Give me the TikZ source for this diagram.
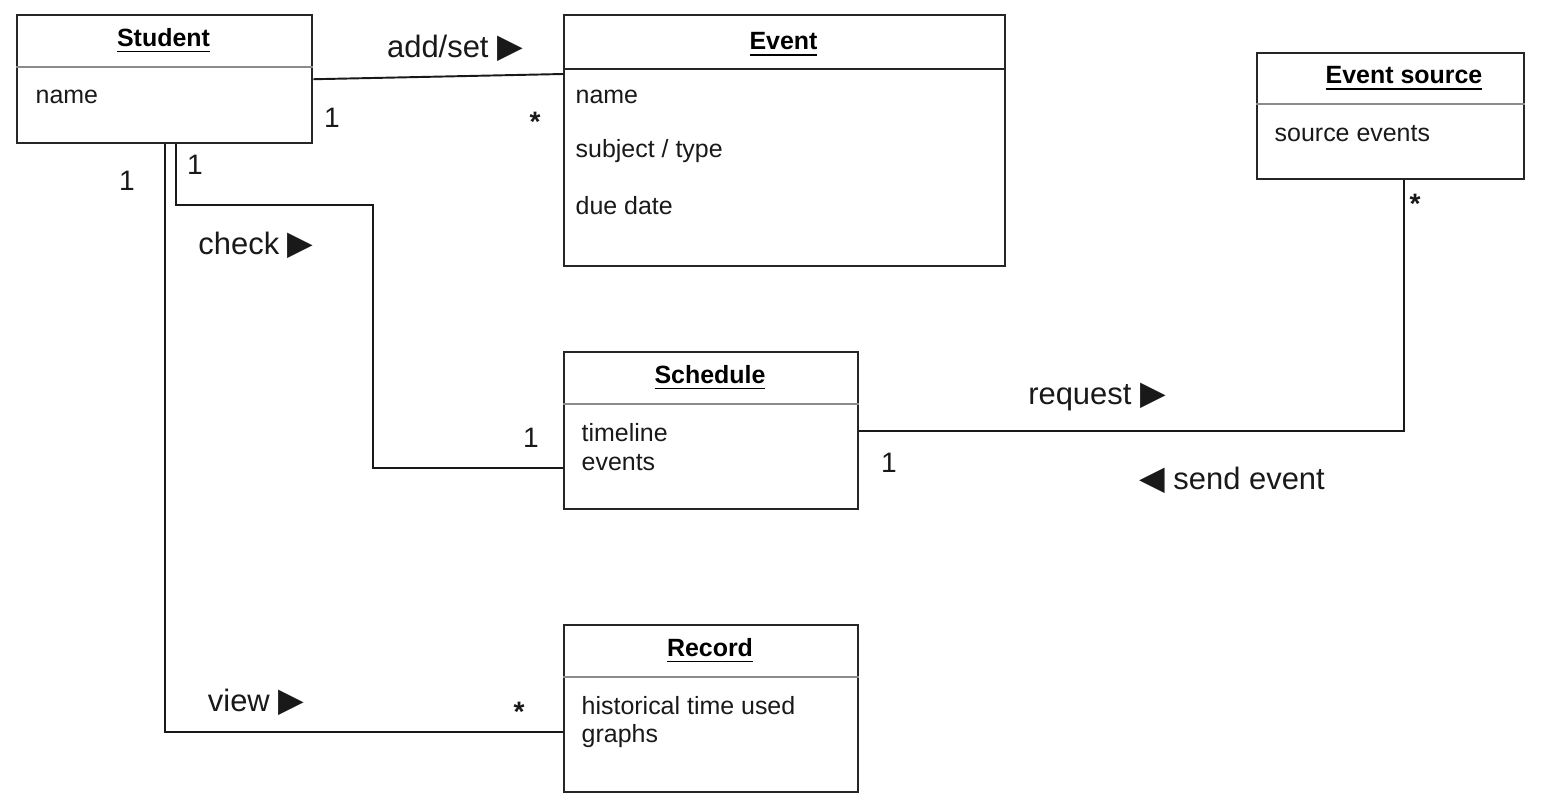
\documentclass[tikz,border=0pt]{standalone}
\usepackage{fontspec}
\setmainfont{Liberation Sans}
\newfontfamily\symfont{DejaVu Sans}
\newcommand{\rtri}{{\symfont\fontsize{9.5}{10}\selectfont ▶}}
\newcommand{\ltri}{{\symfont\fontsize{9.5}{10}\selectfont ◀}}
\begin{document}
\begin{tikzpicture}[
  classbox/.style={draw=black!85, line width=0.7pt, inner sep=0pt, anchor=north west},
  divider/.style={draw=black!45, line width=0.6pt},
  conn/.style={draw=black!90, line width=0.55pt},
  ctitle/.style={font=\fontsize{7.1}{8.5}\selectfont\bfseries, inner sep=0pt},
  attr/.style={font=\fontsize{7.1}{8.5}\selectfont, inner sep=0pt, anchor=west, text=black!90},
  lbl/.style={font=\fontsize{8.8}{10}\selectfont, inner sep=0pt, text=black!90},
  mult/.style={font=\fontsize{8}{9}\selectfont, inner sep=0pt, text=black!90}
]
\useasboundingbox (0,0) rectangle (15.62,-8.08);
% classes
\node[classbox, minimum width=2.95cm, minimum height=1.28cm] (student) at (0.16,-0.14) {};
\node[classbox, minimum width=4.41cm, minimum height=2.51cm] (event) at (5.63,-0.14) {};
\node[classbox, minimum width=2.67cm, minimum height=1.26cm] (esource) at (12.56,-0.52) {};
\node[classbox, minimum width=2.94cm, minimum height=1.57cm] (schedule) at (5.63,-3.51) {};
\node[classbox, minimum width=2.94cm, minimum height=1.67cm] (record) at (5.63,-6.24) {};
% dividers
\draw[divider] ([yshift=-5.3mm]student.north west) -- ([yshift=-5.3mm]student.north east);
\draw[draw=black!85, line width=0.6pt] ([yshift=-5.5mm]event.north west) -- ([yshift=-5.5mm]event.north east);
\draw[divider] ([yshift=-5.2mm]esource.north west) -- ([yshift=-5.2mm]esource.north east);
\draw[divider] ([yshift=-5.3mm]schedule.north west) -- ([yshift=-5.3mm]schedule.north east);
\draw[divider] ([yshift=-5.3mm]record.north west) -- ([yshift=-5.3mm]record.north east);
% titles
\node[ctitle] (tstudent) at (1.635,-0.41) {\underline{Student}};
\node[ctitle] (tevent) at (7.835,-0.45) {\underline{Event}};
\node[ctitle] (tesource) at (14.04,-0.79) {\underline{Event source}};
\node[ctitle] (tschedule) at (7.10,-3.78) {\underline{Schedule}};
\node[ctitle] (trecord) at (7.10,-6.51) {\underline{Record}};
% attributes
\node[attr] (a1) at (0.35,-0.97) {name};
\node[attr] (a2) at (5.75,-0.97) {name};
\node[attr] (a3) at (5.75,-1.51) {subject / type};
\node[attr] (a4) at (5.75,-2.06) {due date};
\node[attr] (a5) at (12.74,-1.34) {source events};
\node[attr] (a6) at (5.81,-4.33) {timeline};
\node[attr] (a7) at (5.81,-4.63) {events};
\node[attr] (a8) at (5.81,-7.06) {historical time used};
\node[attr] (a9) at (5.81,-7.36) {graphs};
% connectors
\coordinate (c1) at (3.73,-2.05);
\draw[conn] (student.east) -- ([yshift=-6mm]event.north west);
\draw[conn] ([xshift=1.1mm]student.south) |- (c1) |- ([yshift=-11.7mm]schedule.north west);
\draw[conn] (student.south) |- ([yshift=-10.8mm]record.north west);
\draw[conn] ([yshift=-8mm]schedule.north east) -| ([xshift=1.35mm]esource.south);
% association labels
\node[lbl] (l1) at (4.55,-0.48) {add/set \rtri};
\node[lbl] (l2) at (2.56,-2.45) {check \rtri};
\node[lbl] (l3) at (2.56,-7.02) {view \rtri};
\node[lbl] (l4) at (10.97,-3.97) {request \rtri};
\node[lbl] (l5) at (12.32,-4.80) {\ltri{} send event};
% multiplicities
\node[mult] (m1) at (3.32,-1.18) {1};
\node[mult] (m2) at (5.35,-1.22) {\textbf{*}};
\node[mult] (m3) at (1.95,-1.65) {1};
\node[mult] (m4) at (1.27,-1.81) {1};
\node[mult] (m5) at (5.31,-4.38) {1};
\node[mult] (m6) at (5.19,-7.12) {\textbf{*}};
\node[mult] (m7) at (8.89,-4.63) {1};
\node[mult] (m8) at (14.15,-2.04) {\textbf{*}};
\end{tikzpicture}
\end{document}
